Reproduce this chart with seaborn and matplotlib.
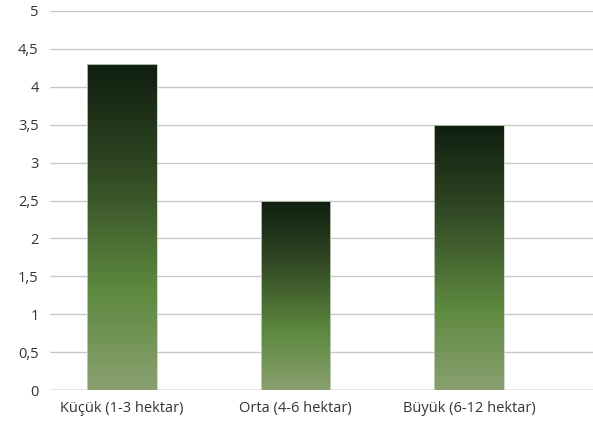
import numpy as np
import pandas as pd
import matplotlib
matplotlib.use("Agg")
import matplotlib.pyplot as plt
from matplotlib.colors import LinearSegmentedColormap
import seaborn as sns

# chart data
categories = ["Küçük (1-3 hektar)", "Orta (4-6 hektar)", "Büyük (6-12 hektar)"]
values = [4.3, 2.5, 3.5]
y_ticks = [0, 0.5, 1, 1.5, 2, 2.5, 3, 3.5, 4, 4.5, 5]

df = pd.DataFrame({"category": categories, "value": values})

sns.set_style("white")
plt.rcParams["font.family"] = ["Open Sans", "DejaVu Sans"]

fig = plt.figure(figsize=(5.93, 4.33), dpi=100)
ax = fig.add_axes([0.084, 0.0993, 0.916, 0.8753])

sns.barplot(data=df, x="category", y="value", ax=ax, width=0.40,
            facecolor="none", edgecolor="none")

# vertical gradient: dark green at top, lighter green at bottom
grad = LinearSegmentedColormap.from_list(
    "bar_grad", [(0.0, "#8aa070"), (0.3, "#5e8a40"), (0.7, "#2e4422"), (1.0, "#0f1f10")])
g = np.linspace(0, 1, 256).reshape(-1, 1)
for p in ax.patches:
    x0, w, h = p.get_x(), p.get_width(), p.get_height()
    im = ax.imshow(g, cmap=grad, aspect="auto", origin="lower",
                   extent=[x0, x0 + w, 0, h], zorder=3)
    im.set_clip_path(p)
    ax.add_patch(plt.Rectangle((x0, 0), w, h, fill=False, edgecolor="#c8d2c0",
                               linewidth=0.6, zorder=4))

ax.set_xlim(-0.415, 2.715)
ax.set_ylim(0, 5)
ax.set_yticks(y_ticks)
ax.set_yticklabels([f"{t:g}".replace(".", ",") for t in y_ticks])
ax.yaxis.grid(True, color="#c8c8c8", linewidth=1.0)
ax.axhline(0, color="#a8a8a8", linewidth=1.0, zorder=2)
ax.set_axisbelow(True)
for s in ax.spines.values():
    s.set_visible(False)
ax.tick_params(axis="both", length=0, labelsize=10.5, labelcolor="#333333")
ax.tick_params(axis="y", pad=8)
ax.tick_params(axis="x", pad=8)
ax.set_xlabel("")
ax.set_ylabel("")

fig.savefig("out.png", dpi=100)
